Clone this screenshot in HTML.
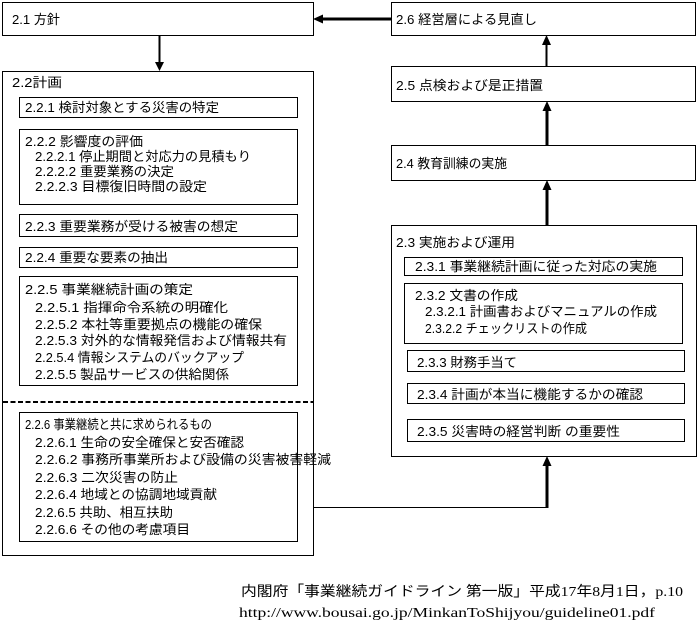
<!DOCTYPE html>
<html>
<head>
<meta charset="utf-8">
<style>
html,body{margin:0;padding:0;background:#fff;}
svg{display:block;}
text{font-family:"Liberation Sans","Noto Sans CJK JP",sans-serif;font-size:13px;fill:#000;}
.cap{font-family:"Liberation Serif","Noto Sans CJK JP",serif;font-size:14px;}
</style>
</head>
<body>
<svg width="700" height="628" viewBox="0 0 700 628" xmlns="http://www.w3.org/2000/svg">
<rect x="0" y="0" width="700" height="628" fill="#fff"/>
<g fill="none" stroke="#000" stroke-width="1" shape-rendering="crispEdges">
  <!-- left -->
  <rect x="2.5" y="2.5" width="311" height="33"/>
  <rect x="2.5" y="71.5" width="311" height="484"/>
  <rect x="19.5" y="97.5" width="278" height="20"/>
  <rect x="19.5" y="129.5" width="278" height="75"/>
  <rect x="19.5" y="214.5" width="278" height="22"/>
  <rect x="19.5" y="247.5" width="278" height="20"/>
  <rect x="19.5" y="276.5" width="278" height="109"/>
  <rect x="19.5" y="412.5" width="278" height="129"/>
  <!-- right -->
  <rect x="391.5" y="2.5" width="304" height="33"/>
  <rect x="391.5" y="66.5" width="304" height="35"/>
  <rect x="391.5" y="145.5" width="304" height="35"/>
  <rect x="391.5" y="225.5" width="305" height="231"/>
  <rect x="404.5" y="257.5" width="278" height="18"/>
  <rect x="404.5" y="283.5" width="278" height="60"/>
  <rect x="407.5" y="350.5" width="277" height="21"/>
  <rect x="407.5" y="383.5" width="277" height="20"/>
  <rect x="407.5" y="419.5" width="277" height="22"/>
  <!-- thin connector -->
  <line x1="313" y1="507.5" x2="548" y2="507.5"/>
</g>
<!-- dashed divider -->
<line x1="3" y1="402" x2="313" y2="402" stroke="#000" stroke-width="2" stroke-dasharray="5 2.5" shape-rendering="crispEdges"/>
<!-- thick arrows -->
<g stroke="#000" fill="none" shape-rendering="crispEdges">
  <line x1="391" y1="19" x2="321" y2="19" stroke-width="3"/>
  <line x1="159.5" y1="35" x2="159.5" y2="63" stroke-width="2"/>
  <line x1="546.5" y1="66" x2="546.5" y2="44" stroke-width="2"/>
  <line x1="547" y1="145" x2="547" y2="110" stroke-width="3"/>
  <line x1="547" y1="225" x2="547" y2="189" stroke-width="3"/>
  <line x1="547" y1="508" x2="547" y2="465" stroke-width="3"/>
</g>
<g fill="#000">
  <polygon points="313,19 323,14.5 323,23.5"/>
  <polygon points="155,62 164,62 159.5,71"/>
  <polygon points="542,45 551,45 546.5,35"/>
  <polygon points="542.5,111 551.5,111 547,101"/>
  <polygon points="542.5,190 551.5,190 547,180"/>
  <polygon points="542.5,466 551.5,466 547,456"/>
</g>
<!-- left texts -->
<text x="12" y="24" textLength="48" lengthAdjust="spacingAndGlyphs">2.1 方針</text>
<text x="12" y="87" textLength="50" lengthAdjust="spacingAndGlyphs">2.2計画</text>
<text x="25" y="112" textLength="194" lengthAdjust="spacingAndGlyphs">2.2.1 検討対象とする災害の特定</text>
<text x="25" y="146" textLength="118" lengthAdjust="spacingAndGlyphs">2.2.2 影響度の評価</text>
<text x="35" y="161" textLength="216" lengthAdjust="spacingAndGlyphs">2.2.2.1 停止期間と対応力の見積もり</text>
<text x="35" y="176" textLength="139" lengthAdjust="spacingAndGlyphs">2.2.2.2 重要業務の決定</text>
<text x="35" y="191" textLength="172" lengthAdjust="spacingAndGlyphs">2.2.2.3 目標復旧時間の設定</text>
<text x="25" y="231" textLength="213" lengthAdjust="spacingAndGlyphs">2.2.3 重要業務が受ける被害の想定</text>
<text x="25" y="262" textLength="143" lengthAdjust="spacingAndGlyphs">2.2.4 重要な要素の抽出</text>
<text x="25" y="294" textLength="168" lengthAdjust="spacingAndGlyphs">2.2.5 事業継続計画の策定</text>
<text x="35" y="312" textLength="193" lengthAdjust="spacingAndGlyphs">2.2.5.1 指揮命令系統の明確化</text>
<text x="35" y="329" textLength="227" lengthAdjust="spacingAndGlyphs">2.2.5.2 本社等重要拠点の機能の確保</text>
<text x="35" y="345" textLength="252" lengthAdjust="spacingAndGlyphs">2.2.5.3 対外的な情報発信および情報共有</text>
<text x="35" y="362" textLength="209" lengthAdjust="spacingAndGlyphs">2.2.5.4 情報システムのバックアップ</text>
<text x="35" y="379" textLength="194" lengthAdjust="spacingAndGlyphs">2.2.5.5 製品サービスの供給関係</text>
<text x="25" y="429" textLength="187" lengthAdjust="spacingAndGlyphs">2.2.6 事業継続と共に求められるもの</text>
<text x="35" y="447" textLength="209" lengthAdjust="spacingAndGlyphs">2.2.6.1 生命の安全確保と安否確認</text>
<text x="35" y="464" textLength="296" lengthAdjust="spacingAndGlyphs">2.2.6.2 事務所事業所および設備の災害被害軽減</text>
<text x="35" y="482" textLength="143" lengthAdjust="spacingAndGlyphs">2.2.6.3 二次災害の防止</text>
<text x="35" y="499" textLength="182" lengthAdjust="spacingAndGlyphs">2.2.6.4 地域との協調地域貢献</text>
<text x="35" y="517" textLength="138" lengthAdjust="spacingAndGlyphs">2.2.6.5 共助、相互扶助</text>
<text x="35" y="534" textLength="155" lengthAdjust="spacingAndGlyphs">2.2.6.6 その他の考慮項目</text>
<!-- right texts -->
<text x="396" y="24" textLength="141" lengthAdjust="spacingAndGlyphs">2.6 経営層による見直し</text>
<text x="396" y="90" textLength="147" lengthAdjust="spacingAndGlyphs">2.5 点検および是正措置</text>
<text x="396" y="168" textLength="111" lengthAdjust="spacingAndGlyphs">2.4 教育訓練の実施</text>
<text x="396" y="247" textLength="119" lengthAdjust="spacingAndGlyphs">2.3 実施および運用</text>
<text x="415" y="271" textLength="242" lengthAdjust="spacingAndGlyphs">2.3.1 事業継続計画に従った対応の実施</text>
<text x="415" y="300" textLength="103" lengthAdjust="spacingAndGlyphs">2.3.2 文書の作成</text>
<text x="425" y="316" textLength="232" lengthAdjust="spacingAndGlyphs">2.3.2.1 計画書およびマニュアルの作成</text>
<text x="425" y="333" textLength="162" lengthAdjust="spacingAndGlyphs">2.3.2.2 チェックリストの作成</text>
<text x="417" y="367" textLength="100" lengthAdjust="spacingAndGlyphs">2.3.3 財務手当て</text>
<text x="417" y="399" textLength="226" lengthAdjust="spacingAndGlyphs">2.3.4 計画が本当に機能するかの確認</text>
<text x="417" y="436" textLength="203" lengthAdjust="spacingAndGlyphs">2.3.5 災害時の経営判断 の重要性</text>
<!-- caption -->
<text class="cap" x="241" y="596" textLength="442" lengthAdjust="spacingAndGlyphs">内閣府「事業継続ガイドライン 第一版」平成17年8月1日，p.10</text>
<text class="cap" x="239" y="617" textLength="416" lengthAdjust="spacingAndGlyphs">http://www.bousai.go.jp/MinkanToShijyou/guideline01.pdf</text>
</svg>
</body>
</html>
